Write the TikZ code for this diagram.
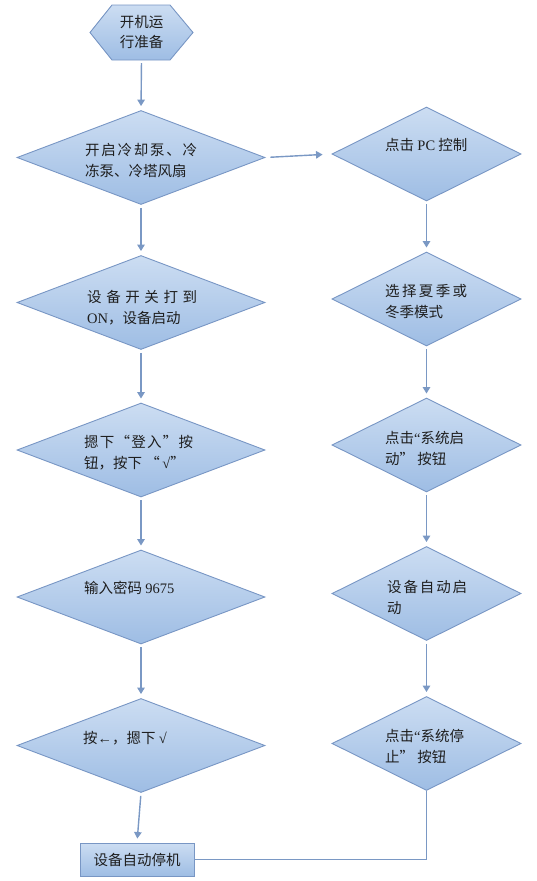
\documentclass[tikz,border=0pt]{standalone}
\usepackage{fontspec}
\setmainfont{Liberation Serif}
\newfontfamily\cjk{Noto Sans CJK SC}
\usetikzlibrary{shapes.geometric,arrows.meta}
\newcommand\latn[1]{{\rmfamily #1}}
\definecolor{bord}{RGB}{120,150,196}
\definecolor{filltop}{RGB}{204,221,242}
\definecolor{fillbot}{RGB}{158,189,228}
\definecolor{arrc}{RGB}{122,152,196}
\definecolor{txtc}{RGB}{30,30,30}
\tikzset{
  shapebase/.style={draw=bord, line width=0.9pt, top color=filltop, bottom color=fillbot, inner sep=0pt},
  ldia/.style={shapebase, diamond, minimum width=248pt, minimum height=94pt},
  rdia/.style={shapebase, diamond, minimum width=189pt, minimum height=94pt},
  stopbox/.style={shapebase, rectangle, minimum width=114pt, minimum height=33pt},
  txt/.style={font=\cjk\fontsize{14.5}{21}\selectfont, text=txtc, align=left, inner sep=0pt, anchor=west},
  arr/.style={draw=arrc, line width=1.4pt, -{Triangle[width=7.5pt,length=6.5pt]}, shorten <=3pt, shorten >=4pt},
  conn/.style={draw=arrc, line width=1.4pt}
}
\begin{document}
\begin{tikzpicture}[x=1pt,y=-1pt]
\useasboundingbox (0,0) rectangle (536,881);
% start hexagon
\path[shapebase] (90,32.5) -- (112,5) -- (170,5) -- (193,32.5) -- (170,60) -- (112,60) -- cycle;
\node[minimum width=103pt, minimum height=55pt, inner sep=0pt, font=\cjk\fontsize{14.5}{20}\selectfont, text=txtc, align=center] (hex) at (141.5,32.5) {开机运\\行准备};
% left column
\node[ldia] (L1) at (141,157.5) {};
\node[ldia] (L2) at (141,302.5) {};
\node[ldia] (L3) at (141,450) {};
\node[ldia] (L4) at (141,597) {};
\node[ldia] (L5) at (141,745.5) {};
\node[stopbox] (stop) at (137,859.5) {};
% right column
\node[rdia] (R1) at (426.5,154) {};
\node[rdia] (R2) at (426.5,299) {};
\node[rdia] (R3) at (426.5,445) {};
\node[rdia] (R4) at (426.5,593.5) {};
\node[rdia] (R5) at (426.5,743.5) {};
% texts
\node[txt] (tL1) at (85,160.5) {\makebox[112pt][s]{开\hfil 启\hfil 冷\hfil 却\hfil 泵\hfil 、\hfil 冷}\\冻泵、冷塔风扇};
\node[txt] (tL2) at (87,307.5) {\makebox[110pt][s]{设\hfil 备\hfil 开\hfil 关\hfil 打\hfil 到}\\\latn{ON}，设备启动};
\node[txt] (tL3) at (84,453) {\makebox[109pt][s]{摁\hfil 下\hfil “\hfil 登\hfil 入\hfil ”\hfil 按}\\钮，按下 “\,\latn{√}”};
\node[txt] (tL4) at (84,588) {输入密码 \latn{9675}};
\node[txt] (tL5) at (83,738) {按\latn{←}，摁下 \latn{√}};
\node[txt] (tR1) at (385,145) {点击 \latn{PC} 控制};
\node[txt] (tR2) at (385,302) {\makebox[82pt][s]{选\hfil 择\hfil 夏\hfil 季\hfil 或}\\冬季模式};
\node[txt] (tR3) at (385,448) {点击\latn{“}系统启\\动” 按钮};
\node[txt] (tR4) at (387,597.5) {\makebox[80pt][s]{设\hfil 备\hfil 自\hfil 动\hfil 启}\\动};
\node[txt] (tR5) at (385,746) {点击\latn{“}系统停\\止” 按钮};
\node[txt, anchor=center] (tstop) at (stop.center) {设备自动停机};
% connectors
\draw[arr] (hex.south) -- (L1.north);
\draw[arr] (L1.south) -- (L2.north);
\draw[arr] (L2.south) -- (L3.north);
\draw[arr] (L3.south) -- (L4.north);
\draw[arr] (L4.south) -- (L5.north);
\draw[arr] (L5.south) -- (stop.north);
\draw[arr, shorten <=5pt, shorten >=9pt] (L1.east) -- (R1.west);
\draw[arr] (R1.south) -- (R2.north);
\draw[arr] (R2.south) -- (R3.north);
\draw[arr] (R3.south) -- (R4.north);
\draw[arr] (R4.south) -- (R5.north);
\draw[conn] (stop.east) -| (R5.south);
\end{tikzpicture}
\end{document}
